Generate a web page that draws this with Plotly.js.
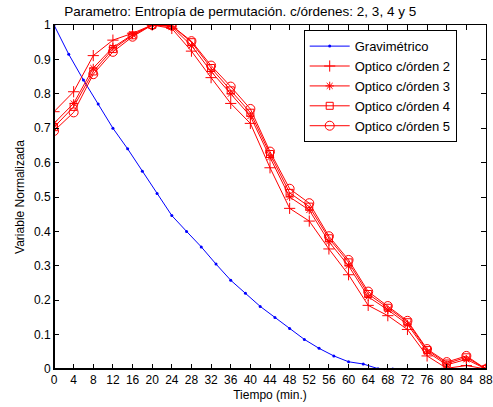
<!DOCTYPE html>
<html>
<head>
<meta charset="utf-8">
<script src="https://cdn.plot.ly/plotly-3.0.1.min.js"></script>
<style>html,body{margin:0;padding:0;background:#fff;}#chart{width:493px;height:407px;}</style>
</head>
<body>
<div id="chart"></div>
<script>
const gravX = [0,3,6,9,12,15,18,21,24,27,30,33,36,39,42,45,48,51,54,57,60,63,66,69];
const gravY = [1.0,0.915,0.84,0.77,0.70,0.64,0.575,0.51,0.446,0.40,0.355,0.305,0.258,0.22,0.182,0.15,0.118,0.086,0.06,0.038,0.021,0.0145,0.001,0];
const optX = [0,4,8,12,16,20,24,28,32,36,40,44,48,52,56,60,64,68,72,76,80,84,88];
const orden2 = [0.748,0.806,0.911,0.956,0.976,1.0,0.99,0.924,0.847,0.772,0.714,0.585,0.467,0.43,0.349,0.274,0.185,0.155,0.115,0.038,0.002,0.01,0];
const orden3 = [0.714,0.772,0.875,0.935,0.972,1.0,0.995,0.94,0.865,0.80,0.735,0.615,0.50,0.462,0.37,0.30,0.21,0.172,0.13,0.05,0.012,0.028,0];
const orden4 = [0.703,0.762,0.865,0.93,0.97,1.0,0.998,0.95,0.875,0.81,0.745,0.625,0.512,0.472,0.38,0.31,0.218,0.178,0.136,0.055,0.016,0.034,0];
const orden5 = [0.692,0.746,0.857,0.922,0.966,1.0,0.998,0.953,0.882,0.821,0.756,0.632,0.524,0.482,0.386,0.317,0.225,0.183,0.14,0.058,0.02,0.038,0];
const names = ['Gravimétrico','Optico c/órden 2','Optico c/órden 3','Optico c/órden 4','Optico c/órden 5'];
const xTicks = [0,4,8,12,16,20,24,28,32,36,40,44,48,52,56,60,64,68,72,76,80,84,88];
const yTicks = [0,0.1,0.2,0.3,0.4,0.5,0.6,0.7,0.8,0.9,1];

const red = '#ff0000';
function optTrace(y, name, symbol, size){
  return {x: optX, y: y, name: name, mode: 'lines+markers', type: 'scatter',
    line: {color: red, width: 1},
    marker: {symbol: symbol, size: size, color: red, line: {color: red, width: 1}}};
}
const traces = [
  {x: gravX, y: gravY, name: names[0], mode: 'lines+markers', type: 'scatter',
   line: {color: '#0000ff', width: 1}, marker: {symbol: 'circle', size: 3, color: '#0000ff'}},
  optTrace(orden2, names[1], 'cross-thin-open', 8),
  optTrace(orden3, names[2], 'asterisk-open', 7),
  optTrace(orden4, names[3], 'square-open', 7),
  optTrace(orden5, names[4], 'circle-open', 9)
];
const font = {family: 'Liberation Sans, Arial, sans-serif', size: 12, color: '#000'};
const layout = {
  width: 493, height: 407,
  margin: {l: 54, r: 7, t: 25, b: 38},
  paper_bgcolor: '#fff', plot_bgcolor: '#fff',
  font: font,
  showlegend: true,
  title: {text: 'Parametro: Entropía de permutación. c/órdenes: 2, 3, 4 y 5', font: {family: font.family, size: 13.5, color: '#000'},
          x: 0.431, xref: 'paper', xanchor: 'center', y: 0.972, yref: 'container', yanchor: 'middle'},
  xaxis: {range: [0, 88], tickvals: xTicks, ticktext: xTicks.map(String), ticks: 'inside', ticklen: 5,
          tickcolor: '#000', showline: true, linecolor: '#000', linewidth: 1, mirror: 'ticks',
          ticklabeloverflow: 'allow',
          showgrid: false, zeroline: false, tickfont: {family: font.family, size: 12},
          title: {text: 'Tiempo (min.)', font: {family: font.family, size: 12}, standoff: 4}},
  yaxis: {range: [0, 1], tickvals: yTicks, ticktext: yTicks.map(String), ticks: 'inside', ticklen: 5,
          tickcolor: '#000', showline: true, linecolor: '#000', linewidth: 1, mirror: 'ticks',
          showgrid: false, zeroline: false, tickfont: {family: font.family, size: 12},
          title: {text: 'Variable Normalizada', font: {family: font.family, size: 12}, standoff: 6}},
  legend: {x: 0.578, y: 0.985, xanchor: 'left', yanchor: 'top', bgcolor: '#fff', bordercolor: '#000', borderwidth: 1,
           font: {family: font.family, size: 13}, itemwidth: 40, tracegroupgap: 0},
  shapes: [
    {type: 'line', xref: 'paper', yref: 'paper', x0: 0, x1: 0, y0: 0, y1: 1, line: {color: '#000', width: 2}},
    {type: 'line', xref: 'paper', yref: 'paper', x0: 0, x1: 1, y0: 0, y1: 0, line: {color: '#000', width: 2}}
  ]
};
Plotly.newPlot('chart', traces, layout, {displayModeBar: false, staticPlot: true});
</script>
</body>
</html>
